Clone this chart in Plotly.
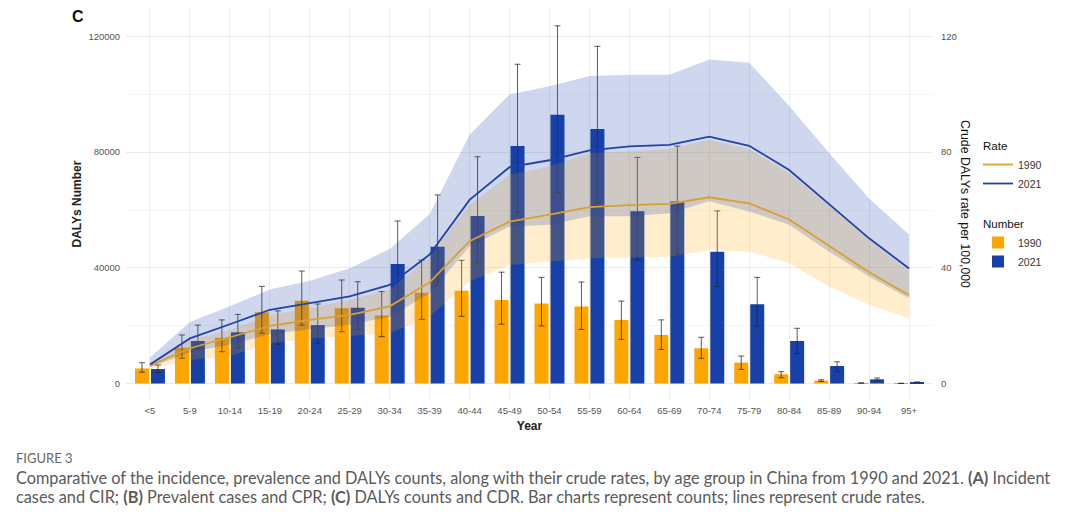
import plotly.graph_objects as go

ages = ["<5", "5-9", "10-14", "15-19", "20-24", "25-29", "30-34", "35-39", "40-44", "45-49",
        "50-54", "55-59", "60-64", "65-69", "70-74", "75-79", "80-84", "85-89", "90-94", "95+"]

# DALYs counts (left axis)
num_1990 = [5200, 12400, 15800, 24600, 28600, 26000, 23500, 31400, 32100, 28900,
            27700, 26600, 22000, 16800, 12200, 7200, 3200, 1000, 150, 50]
num_1990_lo = [3900, 8700, 11000, 17400, 20200, 17900, 16200, 22200, 23200, 20500,
               19900, 18700, 15300, 11800, 8700, 4900, 2000, 700, 80, 20]
num_1990_hi = [7200, 16800, 22000, 33600, 38900, 35800, 31800, 42700, 42600, 38500,
               36700, 35100, 28500, 22000, 16000, 9500, 4100, 1300, 250, 90]

num_2021 = [5000, 14700, 17700, 18700, 20200, 26200, 41300, 47300, 57900, 82100,
            92900, 88000, 59600, 62900, 45600, 27400, 14700, 6050, 1450, 400]
num_2021_lo = [3800, 12200, 12400, 13500, 13900, 18700, 28900, 34000, 41800, 59200,
               66000, 62500, 42700, 44800, 33500, 19900, 10400, 4100, 1000, 250]
num_2021_hi = [6400, 20200, 23900, 25100, 27500, 35200, 56200, 65200, 78400, 110400,
               123700, 116600, 78200, 82100, 59700, 36700, 19100, 7500, 1900, 550]

# Crude DALYs rate per 100,000 (right axis)
rate_1990 = [6.2, 12.2, 16.0, 19.9, 22.0, 23.7, 26.7, 35.0, 49.2, 56.0,
             58.4, 61.0, 61.7, 62.1, 64.4, 62.3, 56.7, 47.5, 38.5, 30.5]
rate_1990_lo = [5.0, 8.1, 9.5, 13.9, 15.6, 16.5, 17.4, 23.1, 35.3, 41.0,
                42.2, 43.3, 43.6, 43.8, 46.2, 45.6, 41.6, 33.5, 27.2, 22.6]
rate_1990_hi = [7.0, 15.1, 18.5, 23.7, 26.0, 29.0, 32.4, 43.9, 61.8, 72.2,
                75.0, 79.7, 80.3, 81.1, 84.3, 80.9, 72.8, 61.2, 49.7, 38.7]

rate_2021 = [6.6, 15.6, 20.5, 25.5, 27.8, 30.1, 34.1, 44.6, 63.5, 74.8,
             77.2, 80.6, 82.0, 82.5, 85.4, 82.2, 73.8, 62.1, 50.2, 39.8]
rate_2021_lo = [5.5, 10.8, 13.5, 17.0, 18.8, 20.3, 23.1, 31.2, 47.4, 54.3,
                54.9, 57.8, 57.8, 58.9, 63.0, 59.5, 54.9, 45.6, 37.0, 29.5]
rate_2021_hi = [9.0, 21.3, 26.7, 32.5, 35.5, 39.9, 46.5, 58.5, 86.0, 99.9,
                102.8, 106.3, 106.8, 106.8, 112.0, 110.9, 96.0, 79.7, 64.0, 51.5]

left_ticks = [0, 40000, 80000, 120000]
right_ticks = [0, 40, 80, 120]

ORANGE = "#FFA500"
BLUE = "#1740A8"
ORANGE_LINE = "#D9A030"
BLUE_LINE = "#2342A5"
FONT = "Liberation Sans"

fig = go.Figure()

# ribbons (right axis)
fig.add_trace(go.Scatter(x=ages, y=rate_1990_lo, yaxis="y2", mode="lines",
                         line=dict(width=0), showlegend=False, hoverinfo="skip"))
fig.add_trace(go.Scatter(x=ages, y=rate_1990_hi, yaxis="y2", mode="lines",
                         line=dict(width=0), fill="tonexty",
                         fillcolor="rgba(255,165,0,0.2)", showlegend=False, hoverinfo="skip"))
fig.add_trace(go.Scatter(x=ages, y=rate_2021_lo, yaxis="y2", mode="lines",
                         line=dict(width=0), showlegend=False, hoverinfo="skip"))
fig.add_trace(go.Scatter(x=ages, y=rate_2021_hi, yaxis="y2", mode="lines",
                         line=dict(width=0), fill="tonexty",
                         fillcolor="rgba(23,64,168,0.21)", showlegend=False, hoverinfo="skip"))

# rate lines
fig.add_trace(go.Scatter(x=ages, y=rate_1990, yaxis="y2", mode="lines", name="1990",
                         line=dict(color=ORANGE_LINE, width=1.8),
                         legendgroup="rate", legendgrouptitle_text="Rate", legendrank=1))
fig.add_trace(go.Scatter(x=ages, y=rate_2021, yaxis="y2", mode="lines", name="2021",
                         line=dict(color=BLUE_LINE, width=1.8),
                         legendgroup="rate", legendrank=2))

# bars (left axis)
fig.add_trace(go.Bar(x=ages, y=num_1990, name="1990", marker=dict(color=ORANGE, line=dict(width=0)),
                     error_y=dict(type="data", symmetric=False,
                                  array=[h - v for h, v in zip(num_1990_hi, num_1990)],
                                  arrayminus=[v - l for v, l in zip(num_1990, num_1990_lo)],
                                  color="rgba(40,40,40,0.85)", thickness=0.9, width=3),
                     legendgroup="number", legendgrouptitle_text="Number", legendrank=3))
fig.add_trace(go.Bar(x=ages, y=num_2021, name="2021", marker=dict(color=BLUE, line=dict(width=0)),
                     error_y=dict(type="data", symmetric=False,
                                  array=[h - v for h, v in zip(num_2021_hi, num_2021)],
                                  arrayminus=[v - l for v, l in zip(num_2021, num_2021_lo)],
                                  color="rgba(40,40,40,0.85)", thickness=0.9, width=3),
                     legendgroup="number", legendrank=4))

L, R, T, B = 126, 147, 8, 118
W, H = 1080, 518
pw, ph = W - L - R, H - T - B


def px(x):
    return (x - L) / pw


def py(y):
    return (H - B - y) / ph


fig.update_layout(
    width=W, height=H,
    margin=dict(l=L, r=R, t=T, b=B),
    paper_bgcolor="white", plot_bgcolor="white",
    barmode="group", bargap=0.2, bargroupgap=0.125,
    font=dict(family=FONT, color="#222"),
    xaxis=dict(type="category", range=[-0.6, 19.6], showgrid=True, gridcolor="#EEEEEE",
               gridwidth=0.8, zeroline=False, showline=False, automargin=False,
               tickfont=dict(size=9.5, color="#555555"), ticks="outside", ticklen=2,
               tickcolor="rgba(0,0,0,0)",
               title=dict(text="<b>Year</b>", font=dict(size=12, color="#222"), standoff=6)),
    yaxis=dict(range=[-5700, 129850], tickvals=left_ticks, ticktext=[str(v) for v in left_ticks],
               showgrid=True, gridcolor="#EBEBEB", gridwidth=0.8, zeroline=False, showline=False,
               minor=dict(tickvals=[20000, 60000, 100000], showgrid=True, gridcolor="#F5F5F5",
                          gridwidth=0.8),
               tickfont=dict(size=9.5, color="#555555"), ticks="outside", ticklen=3,
               tickcolor="rgba(0,0,0,0)", automargin=False,
               title=dict(text="<b>DALYs Number</b>", font=dict(size=12, color="#222"), standoff=4)),
    yaxis2=dict(range=[-5.7, 129.85], tickvals=right_ticks, overlaying="y", side="right",
                showgrid=False, zeroline=False, showline=False, automargin=False,
                tickfont=dict(size=9.5, color="#555555"), ticks="outside", ticklen=5,
                tickcolor="rgba(0,0,0,0)"),
    legend=dict(x=px(978), y=py(131), xanchor="left", yanchor="top",
                traceorder="grouped", tracegroupgap=21,
                font=dict(size=10.5, color="#333"),
                grouptitlefont=dict(size=11.5, color="#111"),
                itemwidth=30, bgcolor="rgba(0,0,0,0)"),
    showlegend=True,
)

annotations = [
    dict(text="<b>C</b>", x=px(70), y=py(16), xref="paper", yref="paper",
         xanchor="left", yanchor="middle", showarrow=False, font=dict(size=16, color="#111")),
    dict(text="Crude DALYs rate per 100,000", x=px(965), y=py(204), xref="paper", yref="paper",
         xanchor="center", yanchor="middle", textangle=90, showarrow=False,
         font=dict(size=12.3, color="#111")),
    dict(text="FIGURE 3", x=px(14), y=py(458), xref="paper", yref="paper",
         xanchor="left", yanchor="middle", showarrow=False,
         font=dict(family="Lato", size=13, color="#666666")),
    dict(text="Comparative of the incidence, prevalence and DALYs counts, along with their crude rates, "
              "by age group in China from 1990 and 2021. <b>(A)</b> Incident",
         x=px(14), y=py(477), xref="paper", yref="paper", xanchor="left", yanchor="middle",
         showarrow=False, font=dict(family="Lato", size=16.3, color="#5a5a5a")),
    dict(text="cases and CIR; <b>(B)</b> Prevalent cases and CPR; <b>(C)</b> DALYs counts and CDR. "
              "Bar charts represent counts; lines represent crude rates.",
         x=px(14), y=py(497), xref="paper", yref="paper", xanchor="left", yanchor="middle",
         showarrow=False, font=dict(family="Lato", size=16.3, color="#5a5a5a")),
]
fig.update_layout(annotations=annotations)

fig.write_html("out.html", config={"displayModeBar": False},
               post_script="document.body.style.margin='0px';")
